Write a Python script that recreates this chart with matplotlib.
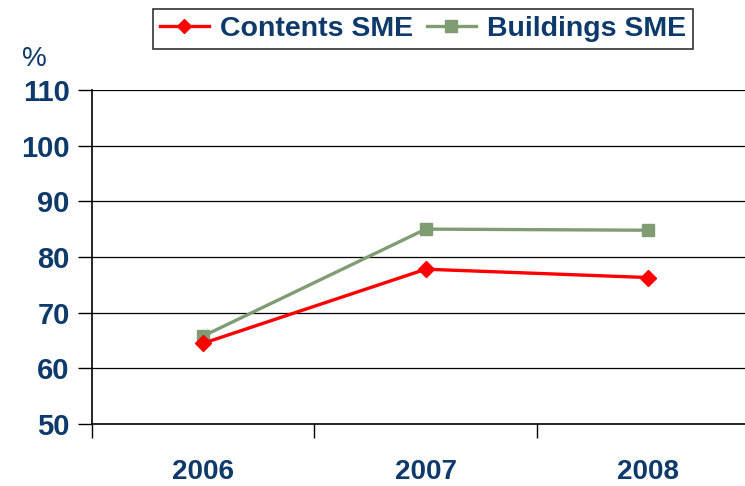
import matplotlib.pyplot as plt
from matplotlib.ticker import FixedLocator, NullFormatter, FixedFormatter

years = ['2006', '2007', '2008']
contents_sme = [64.5, 77.8, 76.3]
buildings_sme = [65.8, 85.0, 84.8]
y_ticks = [50, 60, 70, 80, 90, 100, 110]

navy = '#0d3a6b'
plt.rcParams['font.family'] = ['Liberation Sans', 'DejaVu Sans']

fig = plt.figure(figsize=(7.45, 4.86), dpi=100)
ax = fig.add_axes([0.1235, 0.1276, 0.8765, 0.6874])

x = list(range(len(years)))
ax.plot(x, contents_sme, color='#ff0000', lw=2.4, marker='D', ms=8,
        label='Contents SME', zorder=4)
ax.plot(x, buildings_sme, color='#7f9c72', lw=2.4, marker='s', ms=9,
        label='Buildings SME', zorder=3)

ax.set_xlim(-0.5, 2.435)
ax.set_ylim(50, 110)
ax.set_yticks(y_ticks)
ax.yaxis.grid(True, color='black', lw=0.9)
ax.set_axisbelow(True)

# category boundaries as major ticks, labels on minor ticks at centers
ax.xaxis.set_major_locator(FixedLocator([-0.5, 0.5, 1.5, 2.5]))
ax.xaxis.set_major_formatter(NullFormatter())
ax.xaxis.set_minor_locator(FixedLocator(x))
ax.xaxis.set_minor_formatter(FixedFormatter(years))
ax.tick_params(axis='x', which='major', length=10, width=1, direction='out')
ax.tick_params(axis='x', which='minor', length=0, pad=25,
               labelsize=20, labelcolor=navy)
ax.tick_params(axis='y', length=10, width=1, direction='out', pad=6,
               labelsize=21, labelcolor=navy)
for lab in ax.get_xticklabels(minor=True) + ax.get_yticklabels():
    lab.set_fontweight('bold')

for s in ['top', 'right']:
    ax.spines[s].set_visible(False)
for s in ['left', 'bottom']:
    ax.spines[s].set_linewidth(1.2)

fig.text(0.03, 0.865, '%', fontsize=20, color=navy)

leg = fig.legend(loc='upper center', bbox_to_anchor=(0.568, 1.0), ncol=2,
                 prop={'size': 20.5, 'weight': 'bold'}, frameon=True,
                 fancybox=False, edgecolor='black', handlelength=1.7,
                 columnspacing=0.5, handletextpad=0.4, borderpad=0.25,
                 borderaxespad=0.3, markerscale=0.9)
leg.get_frame().set_linewidth(1.2)
for t in leg.get_texts():
    t.set_color(navy)

fig.savefig('out.png', dpi=100)
